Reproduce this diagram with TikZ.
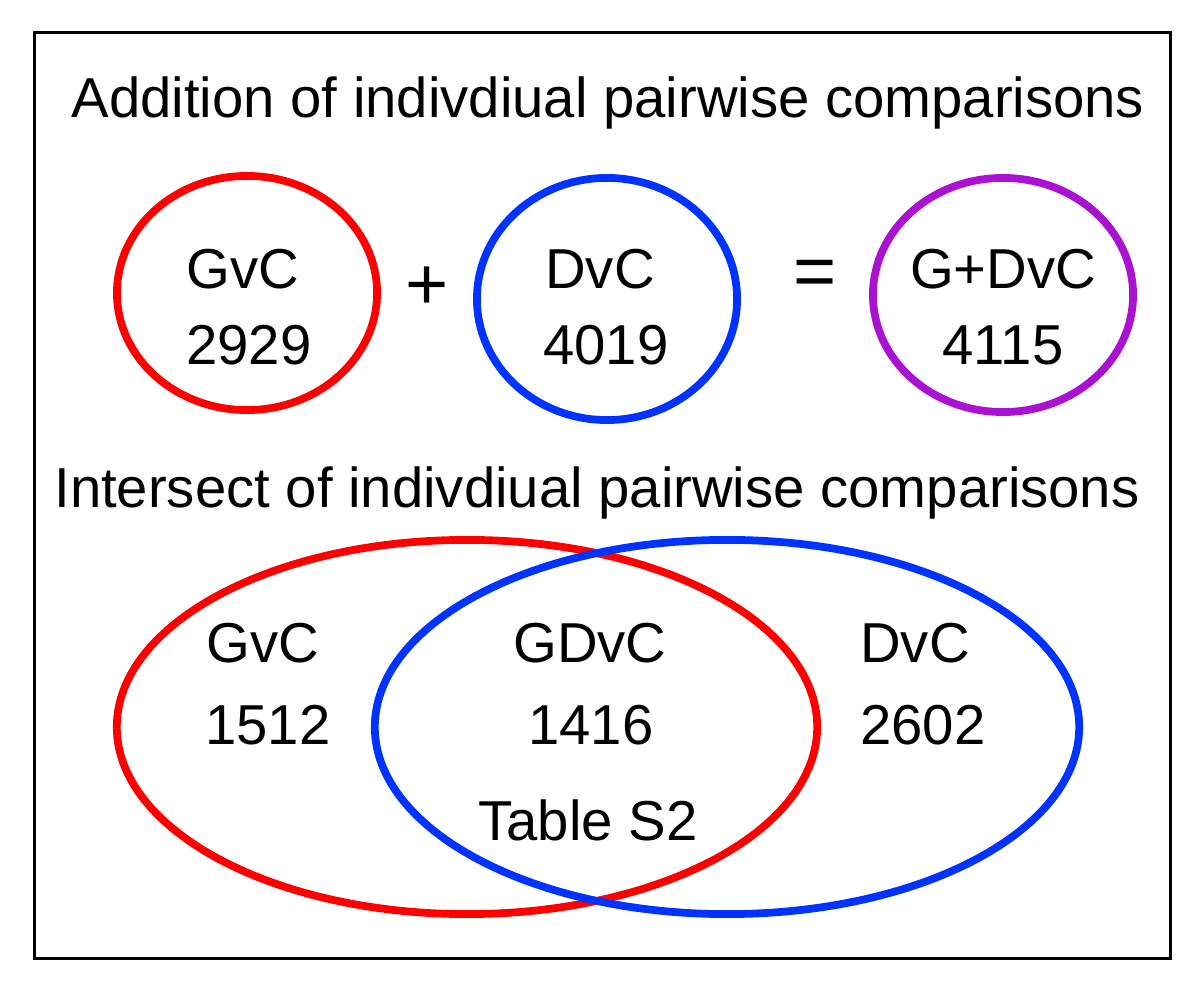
\documentclass[tikz,border=0pt]{standalone}
\usepackage{fontspec}
\setmainfont{Liberation Sans}
\usepackage{xcolor}
\usetikzlibrary{shapes.geometric, positioning}

\definecolor{setred}{RGB}{255,0,0}
\definecolor{setblue}{RGB}{0,51,255}
\definecolor{setpurple}{RGB}{170,17,210}

\begin{document}
\begin{tikzpicture}[
    x=0.01cm, y=-0.01cm,
    setcircle/.style={ellipse, draw, line width=2.2pt, minimum width=2.6cm, minimum height=2.34cm},
    setoval/.style={ellipse, draw, line width=2.2pt, minimum width=7cm, minimum height=3.74cm},
    label/.style={font=\fontsize{16}{18}\selectfont, inner sep=0pt},
    heading/.style={font=\fontsize{16}{18}\selectfont, inner sep=0pt}
]
\useasboundingbox (0,0) rectangle (1200,983);

% Frame
\node[draw, line width=1pt, minimum width=11.35cm, minimum height=9.25cm, inner sep=0pt] (frame) at (602.5,495.5) {};

% Addition
\node[heading] (addtitle) at (608,103) {Addition of indivdiual pairwise comparisons};

\node[setcircle, setred] (gvc) at (247,293) {};
\node[setcircle, setblue, minimum height=2.42cm] (dvc) at (607,299) {};
\node[setcircle, setpurple] (gdvc) at (1003,295) {};

\node[label] (gvcname) at (243,269) {GvC};
\node[label] (gvcnum) at (249,345) {2929};
\node[label] (dvcname) at (600,269) {DvC};
\node[label] (dvcnum) at (606,345) {4019};
\node[label] (gdvcname) at (1003,269) {G+DvC};
\node[label] (gdvcnum) at (1003,345) {4115};

\node[label, font=\fontsize{21}{23}\selectfont] (plus) at (427,288) {+};
\node[label, font=\fontsize{21}{23}\selectfont] (equals) at (815,278) {=};

% Intersect
\node[heading] (inttitle) at (597,493) {Intersect of indivdiual pairwise comparisons};

\node[setoval, setred] (gvcoval) at (467,727) {};
\node[setoval, setblue, minimum width=7.04cm] (dvcoval) at (727,727) {};

\node[label] (gvconly) at (263,643) {GvC};
\node[label] (gvconlynum) at (268,725) {1512};
\node[label] (shared) at (590,643) {GDvC};
\node[label] (sharednum) at (591,725) {1416};
\node[label] (sharedref) at (588,820) {Table S2};
\node[label] (dvconly) at (915,643) {DvC};
\node[label] (dvconlynum) at (923,725) {2602};

\end{tikzpicture}
\end{document}
